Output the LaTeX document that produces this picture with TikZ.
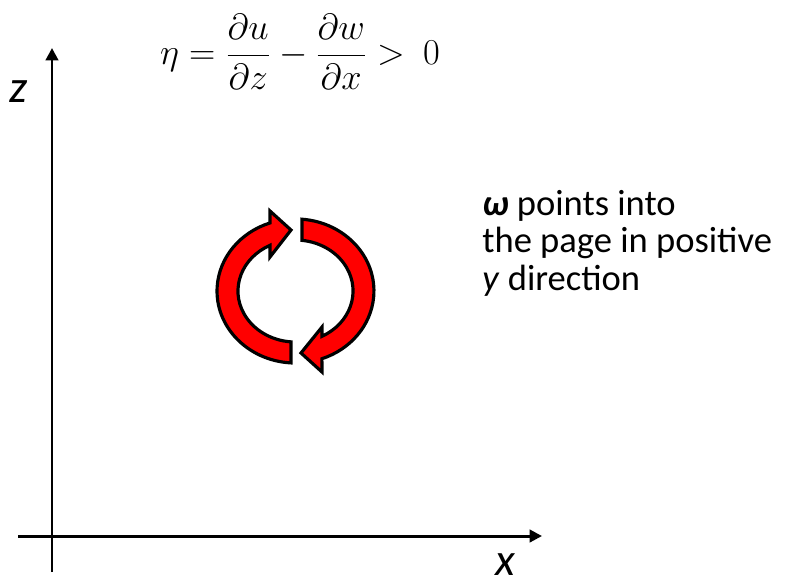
\documentclass[tikz,border=0pt]{standalone}
\usepackage{amsmath}
\usepackage{fontspec}
\setmainfont{Carlito}
\usepackage{tikz}
\usetikzlibrary{arrows.meta}

\begin{document}
\begin{tikzpicture}[x=0.02cm, y=-0.02cm,
  axis/.style={line width=1.7pt, -{Triangle[length=7pt, width=7pt]}},
  swirl/.style={fill=red, draw=black, line width=1.8pt, line join=miter},
  lbl/.style={font=\fontsize{26}{26}\selectfont\itshape, inner sep=0pt}]
  \useasboundingbox (0,0) rectangle (794,582);

  % Axes (x to the right, z up)
  \draw[axis] (52,572) -- (52,48);
  \draw[axis] (18,536) -- (542,536);
  \node[lbl, anchor=base] (zlbl) at (19,102) {z};
  \node[lbl, anchor=base] (xlbl) at (505,575) {x};

  % Vorticity definition
  \node[font=\fontsize{20.5}{24}\selectfont] (eta) at (300,52)
        {$\displaystyle \eta = \frac{\partial u}{\partial z} - \frac{\partial w}{\partial x} >\ 0$};

  % Curved arrow, left half (bottom to top)
  \filldraw[swirl] (291,362.9) arc[start angle=93.3, end angle=251, x radius=78.5, y radius=72]
    -- (270,211) -- (291,230) -- (270,257) -- (270,245.3)
    arc[start angle=243.7, end angle=94.5, x radius=57.5, y radius=51] -- cycle;

  % Curved arrow, right half (top to bottom)
  \filldraw[swirl] (302,219.2) arc[start angle=274.8, end angle=430.3, x radius=78.5, y radius=72]
    -- (322,372) -- (301,353) -- (322,327) -- (322,336.3)
    arc[start angle=422.6, end angle=276.5, x radius=57.5, y radius=51] -- cycle;

  % Note on direction (base = last line)
  \node[anchor=base west, align=left, inner sep=0pt, font=\fontsize{20.8}{21.3}\selectfont]
        (omega) at (482,290) {\textbf{\textit{ω}} points into\\the page in positive\\\textit{y} direction};
\end{tikzpicture}
\end{document}
